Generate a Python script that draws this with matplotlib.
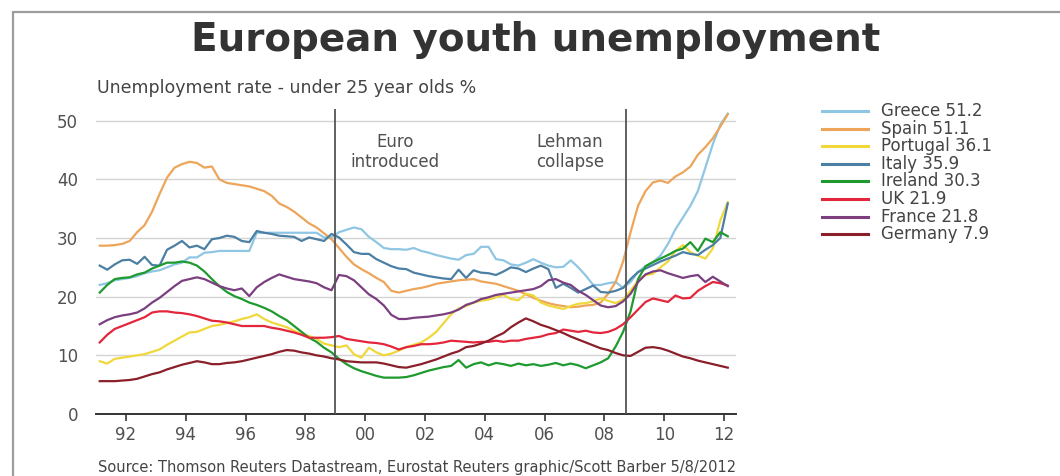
import numpy as np
from matplotlib import pyplot as plt
from matplotlib.lines import Line2D
from matplotlib.patches import Rectangle

# quarterly readings, mid-quarter, Q1 1991 .. Q1 2012
years = 1991.125 + 0.25 * np.arange(85)

greece = [22.0, 22.3, 22.8, 23.0,
          23.2, 23.5, 24.0, 24.3,
          24.5, 25.0, 25.5, 25.8,
          26.7, 26.7, 27.5, 27.6,
          27.8, 27.8, 27.8, 27.8,
          27.8, 30.9, 30.9, 30.9,
          30.9, 30.9, 30.9, 30.9,
          30.9, 30.9, 30.1, 30.1,
          31.0, 31.4, 31.8, 31.5,
          30.2, 29.3, 28.3, 28.1,
          28.1, 28.0, 28.3, 27.8,
          27.5, 27.1, 26.8, 26.5,
          26.3, 27.1, 27.3, 28.5,
          28.5, 26.4, 26.2, 25.5,
          25.3, 25.8, 26.4, 25.8,
          25.3, 25.0, 25.1, 26.2,
          25.0, 23.6, 22.0, 22.0,
          22.3, 22.5, 21.5, 22.5,
          24.2, 25.2, 25.9, 27.0,
          29.0, 31.5, 33.5, 35.5,
          38.0, 42.0, 46.0, 49.3,
          51.2]

spain = [28.7, 28.7, 28.8, 29.0,
         29.5, 31.0, 32.2, 34.5,
         37.5, 40.3, 42.0, 42.6,
         43.0, 42.8, 42.0, 42.2,
         40.0, 39.4, 39.2, 39.0,
         38.8, 38.4, 38.0, 37.2,
         35.9, 35.3, 34.5, 33.5,
         32.5, 31.8, 30.8, 29.8,
         28.3, 26.8, 25.5, 24.7,
         24.0, 23.2, 22.5, 21.0,
         20.7, 21.0, 21.3, 21.5,
         21.8, 22.2, 22.4, 22.6,
         22.8, 22.9, 23.0, 22.6,
         22.4, 22.2, 21.8, 21.4,
         21.0, 20.4, 19.8, 19.3,
         18.9, 18.6, 18.4, 18.2,
         18.3, 18.5, 18.6, 19.0,
         20.5, 22.5, 26.0, 31.0,
         35.5, 38.0, 39.5, 39.8,
         39.4, 40.5, 41.2, 42.2,
         44.2, 45.5, 47.0, 49.0,
         51.1]

portugal = [9.0, 8.6, 9.4, 9.6,
            9.8, 10.0, 10.2, 10.6,
            11.0, 11.8, 12.5, 13.2,
            13.9, 14.0, 14.5, 15.0,
            15.2, 15.5, 15.8, 16.2,
            16.5, 17.0, 16.2, 15.6,
            15.2, 14.8, 14.2, 13.6,
            13.3, 12.8, 12.0, 11.7,
            11.4, 11.7, 10.2, 9.6,
            11.3, 10.5, 10.0, 10.3,
            10.8, 11.4, 11.8, 12.2,
            13.0, 14.0, 15.5, 17.0,
            18.0, 18.4, 19.0, 19.3,
            19.5, 19.9, 20.3, 19.6,
            19.4, 20.5, 20.2, 19.0,
            18.5, 18.2, 17.9, 18.4,
            18.8, 18.9, 19.2, 19.7,
            19.3, 18.9, 19.5, 21.0,
            22.8, 23.7, 23.9, 25.0,
            26.0, 27.8, 28.8, 27.6,
            27.0, 26.5, 28.2, 33.0,
            36.1]

italy = [25.3, 24.6, 25.5, 26.2,
         26.3, 25.6, 26.8, 25.4,
         25.3, 28.0, 28.7, 29.5,
         28.4, 28.7, 28.1, 29.8,
         30.0, 30.4, 30.2, 29.5,
         29.3, 31.2, 30.9, 30.7,
         30.4, 30.3, 30.2, 29.5,
         30.1, 29.8, 29.5, 30.7,
         30.1, 28.9, 27.6, 27.3,
         27.3, 26.4, 25.8, 25.2,
         24.8, 24.7, 24.1, 23.8,
         23.5, 23.3, 23.1, 23.0,
         24.6, 23.2, 24.5, 24.1,
         24.0, 23.7, 24.3, 25.0,
         24.8, 24.2, 24.8, 25.3,
         24.7, 21.5, 22.2, 21.5,
         20.7, 21.3, 21.9, 20.8,
         20.7, 21.0, 21.5, 23.0,
         24.2, 24.8, 25.4, 26.0,
         26.5, 27.0, 27.6, 27.3,
         27.1, 28.0, 28.8, 30.0,
         35.9]

ireland = [20.7, 22.0, 23.0, 23.2,
           23.3, 23.8, 24.1, 24.8,
           25.3, 25.8, 25.8, 26.0,
           25.8, 25.3, 24.3, 23.0,
           21.8, 20.8, 20.1, 19.6,
           19.0, 18.6, 18.1, 17.5,
           16.7, 16.0, 15.0, 14.0,
           13.0, 12.3, 11.3, 10.5,
           9.4, 8.5, 7.8, 7.3,
           6.9, 6.5, 6.2, 6.2,
           6.2, 6.3, 6.6, 7.0,
           7.4, 7.7, 8.0, 8.2,
           9.2, 7.9, 8.5, 8.8,
           8.3, 8.7, 8.5, 8.2,
           8.6, 8.3, 8.5, 8.2,
           8.4, 8.7, 8.3, 8.6,
           8.3, 7.8, 8.3, 8.8,
           9.5, 11.5, 14.0, 17.5,
           23.0, 25.2, 25.9, 26.5,
           27.1, 27.8, 28.2, 29.3,
           27.8, 29.9, 29.3, 31.0,
           30.3]

uk = [12.2, 13.5, 14.5, 15.0,
      15.5, 16.0, 16.5, 17.3,
      17.5, 17.5, 17.3, 17.2,
      17.0, 16.7, 16.3, 15.9,
      15.8, 15.6, 15.3, 15.0,
      15.0, 15.0, 15.0, 14.7,
      14.5, 14.2, 13.9, 13.5,
      13.0, 13.0, 13.0, 13.1,
      13.3, 12.8, 12.6, 12.4,
      12.2, 12.1, 11.9, 11.5,
      11.0, 11.4, 11.6, 11.9,
      11.9, 12.0, 12.2, 12.5,
      12.4, 12.3, 12.2, 12.3,
      12.3, 12.5, 12.3, 12.5,
      12.5, 12.8, 13.0, 13.2,
      13.6, 13.8, 14.4, 14.2,
      14.0, 14.2, 13.9, 13.8,
      14.0, 14.5, 15.3, 16.5,
      17.8, 19.1, 19.7, 19.4,
      19.1, 20.2, 19.7, 19.8,
      21.0, 21.8, 22.5, 22.3,
      21.9]

france = [15.3, 16.0, 16.5, 16.8,
          17.0, 17.3, 18.0, 19.0,
          19.8, 20.8, 21.8, 22.7,
          23.0, 23.3, 23.0, 22.4,
          21.8, 21.4, 21.1, 21.4,
          20.1, 21.6, 22.5, 23.2,
          23.8, 23.4, 23.0, 22.8,
          22.6, 22.3, 21.6, 21.1,
          23.7, 23.5, 22.8, 21.6,
          20.4, 19.6, 18.5, 16.9,
          16.2, 16.2, 16.4, 16.5,
          16.6, 16.8, 17.0, 17.3,
          17.8, 18.6, 19.0, 19.6,
          19.9, 20.3, 20.5, 20.7,
          20.9, 21.1, 21.3, 21.8,
          22.8, 23.0, 22.4, 22.0,
          21.0, 20.3, 19.4, 18.5,
          18.2, 18.4, 19.2, 20.5,
          22.5, 23.8, 24.3, 24.5,
          24.0, 23.6, 23.2, 23.5,
          23.7, 22.5, 23.4, 22.6,
          21.8]

germany = [5.6, 5.6, 5.6, 5.7,
           5.8, 6.0, 6.4, 6.8,
           7.1, 7.6, 8.0, 8.4,
           8.7, 9.0, 8.8, 8.5,
           8.5, 8.7, 8.8, 9.0,
           9.3, 9.6, 9.9, 10.2,
           10.6, 10.9, 10.8, 10.5,
           10.3, 10.0, 9.8, 9.5,
           9.3, 9.0, 8.9, 8.8,
           8.8, 8.8, 8.6, 8.3,
           8.0, 7.9, 8.2, 8.5,
           8.9, 9.3, 9.8, 10.3,
           10.7, 11.4, 11.6, 12.0,
           12.5, 13.2, 13.8, 14.8,
           15.6, 16.3, 15.8, 15.2,
           14.8, 14.3, 13.8, 13.2,
           12.7, 12.2, 11.7, 11.2,
           10.9, 10.4, 10.0, 9.9,
           10.6, 11.3, 11.4, 11.2,
           10.8, 10.3, 9.8, 9.5,
           9.1, 8.8, 8.5, 8.2,
           7.9]

countries = ['Greece', 'Spain', 'Portugal', 'Italy',
             'Ireland', 'UK', 'France', 'Germany']
series = [greece, spain, portugal, italy, ireland, uk, france, germany]
colors = ['#8fc6e3', '#eda55a', '#f0d83a', '#4b7fa3',
          '#1f9a2f', '#e3263c', '#7b3f80', '#8a1f2a']

events = [1999.0, 2008.72]
event_labels = ['Euro\nintroduced', 'Lehman\ncollapse']
event_label_x = [2001.0, 2006.85]

tick_years = list(range(1992, 2013, 2))
tick_labels = ['%02d' % (y % 100) for y in tick_years]

W, H = 1060, 476
plt.rcParams['font.family'] = ['DejaVu Sans']


def fx(px):
    return px / W


def fy(py):
    return 1 - py / H


fig = plt.figure(figsize=(W / 100, H / 100), dpi=100)
fig.patch.set_facecolor('white')

# grey frame round the graphic
fig.add_artist(Rectangle((fx(13), -0.1), 1.1, fy(12) + 0.1, transform=fig.transFigure,
                         fill=False, ec='#9c9c9c', lw=1.6))

ax = fig.add_axes([fx(96), fy(414), fx(736) - fx(96), fy(109) - fy(414)])
ax.set_xlim(1991.0, 2012.4)
ax.set_ylim(0, 52)

for vals, c in zip(series, colors):
    ax.plot(years, vals, color=c, lw=1.6, solid_joinstyle='round')

for x in events:
    ax.axvline(x, color='#555555', lw=1.3, zorder=5)
for x, txt in zip(event_label_x, event_labels):
    ax.text(x, 47.9, txt, ha='center', va='top', fontsize=12, color='#505050',
            linespacing=1.15)

ax.set_yticks(range(0, 51, 10))
ax.yaxis.grid(True, color='#d4d4d4', lw=1)
ax.set_axisbelow(True)
ax.tick_params(axis='y', length=0, pad=13, labelsize=12, labelcolor='#505050')

ax.set_xticks(tick_years)
ax.set_xticklabels(tick_labels)
ax.tick_params(axis='x', direction='out', length=5, width=1.2, color='#333333',
               pad=4, labelsize=12, labelcolor='#505050')

for s in ['left', 'right', 'top']:
    ax.spines[s].set_visible(False)
ax.spines['bottom'].set_color('#333333')
ax.spines['bottom'].set_linewidth(1.4)

# titles and source line
fig.text(fx(536), fy(51), 'European youth unemployment', ha='center', va='baseline',
         fontsize=28, fontweight='bold', color='#333333')
fig.text(fx(97), fy(93), 'Unemployment rate - under 25 year olds %', ha='left',
         va='baseline', fontsize=12.5, color='#444444')
fig.text(fx(98), fy(475), 'Source: Thomson Reuters Datastream, Eurostat Reuters graphic/Scott Barber 5/8/2012',
         ha='left', va='bottom', fontsize=10.5, color='#444444')

# key to the right of the plot, labelled with the latest reading
for i, (name, vals, c) in enumerate(zip(countries, series, colors)):
    yy = fy(111 + i * 17.6)
    fig.add_artist(Line2D([fx(822), fx(868)], [yy, yy], transform=fig.transFigure,
                          color=c, lw=2.2))
    fig.text(fx(881), yy, '%s %.1f' % (name, vals[-1]), ha='left', va='center',
             fontsize=12, color='#444444')

fig.savefig('out.png', dpi=100)
